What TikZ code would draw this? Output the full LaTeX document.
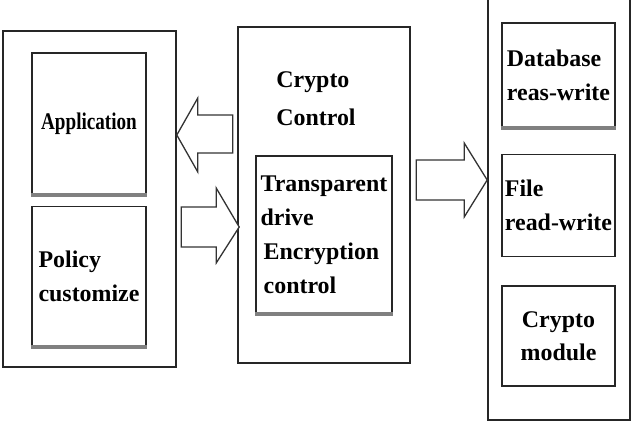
\documentclass[tikz,border=0pt]{standalone}
\usepackage{fontspec}
\setmainfont{Liberation Serif}
\usetikzlibrary{positioning}

\begin{document}
\begin{tikzpicture}[
  x=1bp, y=-1bp,
  frame/.style={draw=black!85, line width=1.6bp, inner sep=0pt},
  box/.style={draw=black!85, line width=1.6bp, inner sep=2bp, minimum width=114bp,
    font=\fontsize{24}{34}\selectfont\bfseries},
  shadeline/.style={draw=black!50, line width=4bp},
  blockarrow/.style={draw=black!80, line width=1.3bp, fill=white, line join=miter}
]
\useasboundingbox (0,0) rectangle (638,430);
\clip (0,0) rectangle (638,430);

\node[frame, minimum width=173bp, minimum height=336bp] (host) at (89.5,199) {};
\node[box, minimum height=141bp] (app) at (89,123.5) {\scalebox{0.8}[1]{Application}};
\node[box, below=11bp of app, minimum height=140bp, align=left] (policy) {Policy\\customize};

\node[frame, minimum width=172bp, minimum height=336bp] (ctl) at (324,195) {};
\node[font=\fontsize{24}{38}\selectfont\bfseries, align=left] (ctltitle) at (316,99) {Crypto\\Control};
\node[box, minimum width=136bp, minimum height=157bp, inner sep=1bp, align=left] (drive) at (324,234.5)
  {Transparent\\drive\\\hspace{3bp}Encryption\\\hspace{3bp}control};

\node[frame, minimum width=142bp, minimum height=440bp] (store) at (559,200) {};
\node[box, minimum width=113bp, minimum height=104bp, align=left] (db) at (558.5,75) {Database\\reas-write};
\node[box, minimum width=113bp, minimum height=102bp, align=left, below=26bp of db] (file) {File\\read-write};
\node[box, minimum width=113bp, minimum height=100bp, align=center, below=28bp of file] (cmod) {Crypto\\module};

\foreach \n in {app,policy,drive,db}
  \draw[shadeline] (\n.south west) -- (\n.south east);

\draw[blockarrow] ([yshift=64bp]host.east) -- ++(21,-37) -- ++(0,17) -- ++(35,0)
  -- ++(0,38) -- ++(-35,0) -- ++(0,19) -- cycle;
\draw[blockarrow] ([xshift=2bp,yshift=-32bp]ctl.west) -- ++(-23,-39) -- ++(0,19) -- ++(-35,0)
  -- ++(0,40) -- ++(35,0) -- ++(0,16) -- cycle;
\draw[blockarrow] ([yshift=20bp]store.west) -- ++(-23,-37) -- ++(0,17) -- ++(-48,0)
  -- ++(0,40) -- ++(48,0) -- ++(0,17) -- cycle;
\end{tikzpicture}
\end{document}
